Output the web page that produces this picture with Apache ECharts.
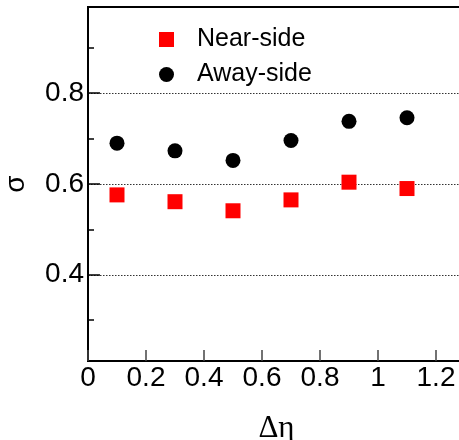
<!DOCTYPE html>
<html><head><meta charset="utf-8">
<script src="https://cdn.jsdelivr.net/npm/echarts@6/dist/echarts.min.js"></script>
<style>html,body{margin:0;padding:0;background:#fff}#c{width:459px;height:440px}</style>
</head><body><div id="c"></div>
<script>
const deltaEta = [0.1, 0.3, 0.5, 0.7, 0.9, 1.1];
const nearSide = [0.576, 0.561, 0.541, 0.565, 0.604, 0.590];
const awaySide = [0.690, 0.673, 0.652, 0.696, 0.738, 0.746];
const xTicks = [0, 0.2, 0.4, 0.6, 0.8, 1.0, 1.2];
const yMajor = [0.4, 0.6, 0.8];
const yMinor = [0.3, 0.5, 0.7, 0.9];

const chart = echarts.init(document.getElementById('c'), null, {renderer: 'canvas'});
const font = 'Liberation Sans, Arial, sans-serif';
chart.setOption({
  animation: false,
  grid: {left: 88, top: 7, right: -6, bottom: 79, outerBoundsMode: 'none', containLabel: false,
    show: true, borderColor: '#000', borderWidth: 2, backgroundColor: 'transparent'},
  legend: {
    orient: 'vertical', left: 154, top: 22, itemWidth: 15, itemHeight: 15, itemGap: 10,
    textStyle: {fontFamily: font, fontSize: 25, color: '#000', lineHeight: 24, padding: [0, 0, 0, 18]},
    data: [{name: 'Near-side', icon: 'rect'}, {name: 'Away-side', icon: 'circle'}]
  },
  xAxis: {
    type: 'value', min: 0, max: 1.3, interval: 0.2,
    name: 'Δη', nameLocation: 'middle', nameGap: 52,
    nameTextStyle: {fontFamily: 'Liberation Serif, Times New Roman, serif', fontSize: 31, color: '#000'},
    axisLine: {show: true, lineStyle: {color: '#000', width: 2}},
    axisTick: {show: true, inside: true, length: 11, customValues: xTicks, lineStyle: {color: '#444', width: 1.5}},
    axisLabel: {customValues: xTicks, fontFamily: font, fontSize: 28, color: '#000', margin: 3,
      formatter: v => String(+v.toFixed(1))},
    splitLine: {show: false}
  },
  yAxis: [{
    type: 'value', min: 0.21, max: 0.99,
    axisLine: {show: true, lineStyle: {color: '#000', width: 2}},
    axisTick: {show: true, inside: true, length: 6, customValues: yMinor, lineStyle: {color: '#000', width: 1.5}},
    axisLabel: {show: false},
    splitLine: {show: false}
  }, {
    type: 'value', min: 0.21, max: 0.99, position: 'left',
    name: 'σ', nameLocation: 'middle', nameGap: 58, nameRotate: 90,
    nameTextStyle: {fontFamily: font, fontSize: 28, color: '#000'},
    axisLine: {show: false},
    axisTick: {show: true, inside: true, length: 12, customValues: yMajor, lineStyle: {color: '#000', width: 1.5}},
    axisLabel: {customValues: yMajor, fontFamily: font, fontSize: 28, color: '#000', margin: 4,
      formatter: v => String(+v.toFixed(1))},
    splitLine: {show: true, lineStyle: {color: '#333', type: [1.5, 1.5], width: 1}}
  }],
  series: [{
    name: 'Near-side', type: 'scatter', symbol: 'rect', symbolSize: 15,
    itemStyle: {color: '#ff0000', opacity: 1},
    data: deltaEta.map((x, i) => [x, nearSide[i]]), z: 5
  }, {
    name: 'Away-side', type: 'scatter', symbol: 'circle', symbolSize: 15,
    itemStyle: {color: '#000', opacity: 1},
    data: deltaEta.map((x, i) => [x, awaySide[i]]), z: 5
  }]
});
</script></body></html>
